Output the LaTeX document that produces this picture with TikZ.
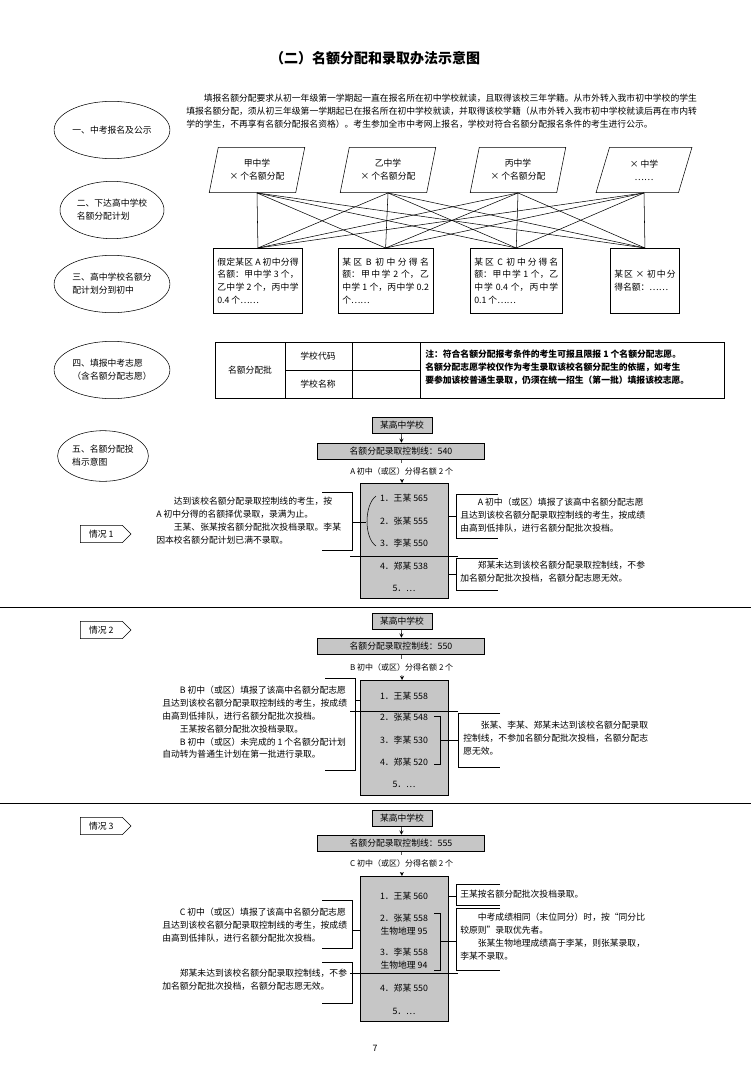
\documentclass[tikz,border=0pt]{standalone}
\usepackage{fontspec}
\setmainfont{Noto Sans CJK SC}
\XeTeXlinebreaklocale "zh"
\XeTeXlinebreakskip=0pt plus 1pt
\usetikzlibrary{shapes.geometric,shapes.symbols}
\newcommand{\ind}{\hspace*{2em}}
\begin{document}
\begin{tikzpicture}[
    x=0.75pt, y=-0.75pt,
    every node/.style={font=\fontsize{6.6}{9.6}\selectfont},
    ell/.style={draw, ellipse, minimum width=78pt, minimum height=43pt, align=left, inner sep=1pt},
    para/.style={draw, trapezium, trapezium left angle=76, trapezium right angle=104, minimum width=72pt, minimum height=34pt, align=center, trapezium stretches=true},
    quota/.style={draw, minimum height=49pt, align=justify, anchor=north west, text width=#1, inner sep=3pt},
    gbox/.style={draw, fill=gray!45, minimum height=12pt, inner sep=1pt},
    lst/.style={draw, fill=gray!45, minimum width=66pt, anchor=north},
    case/.style={draw, signal, signal to=east, minimum width=38pt, minimum height=13pt, inner sep=2pt, anchor=west},
    txt/.style={align=left, anchor=north west, inner sep=0pt},
    arrow/.style={->, >=stealth, thin}
]
    \useasboundingbox (0,0) rectangle (751,1078);
    \node[font=\fontsize{10.5}{12}\selectfont\bfseries] (title) at (375,58) {（二）名额分配和录取办法示意图};

    % left column
    \node[ell] (e1) at (112,130) {一、中考报名及公示};
    \node[ell] (e2) at (112,210) {二、下达高中学校\\名额分配计划};
    \node[ell] (e3) at (112,284) {三、高中学校名额分\\配计划分到初中};
    \node[ell] (e4) at (112,370) {四、填报中考志愿\\（含名额分配志愿）};
    \node[ell, minimum width=64pt, minimum height=38pt] (e5) at (103,456) {五、名额分配投\\档示意图};

    \node[txt, text width=383pt, align=justify] (intro) at (186,94) {\ind 填报名额分配要求从初一年级第一学期起一直在报名所在初中学校就读，且取得该校三年学籍。从市外转入我市初中学校的学生填报名额分配，须从初三年级第一学期起已在报名所在初中学校就读，并取得该校学籍（从市外转入我市初中学校就读后再在市内转学的学生，不再享有名额分配报名资格）。考生参加全市中考网上报名，学校对符合名额分配报名条件的考生进行公示。};

    % quota plan
    \node[para] (p1) at (257,170) {甲中学\\× 个名额分配};
    \node[para] (p2) at (388,170) {乙中学\\× 个名额分配};
    \node[para] (p3) at (518,170) {丙中学\\× 个名额分配};
    \node[para] (p4) at (644,170) {× 中学\\……};

    \node[quota=61pt] (b1) at (213,248) {假定某区 A 初中分得名额：甲中学 3 个，乙中学 2 个，丙中学 0.4 个……};
    \node[quota=65pt] (b2) at (338,248) {某区 B 初中分得名额：甲中学 2 个，乙中学 1 个，丙中学 0.2 个……};
    \node[quota=63pt] (b3) at (470,248) {某区 C 初中分得名额：甲中学 1 个，乙中学 0.4 个，丙中学 0.1 个……};
    \node[quota=46pt] (b4) at (610,248) {某区 × 初中分得名额：……};

    \foreach \i in {1,...,4}
        \foreach \j in {1,...,4}
            \draw (p\i.south) -- (b\j.north);

    % application form
    \draw (215,342) rectangle (724,398);
    \draw (285,342) -- (285,398) (352,342) -- (352,398) (420,342) -- (420,398) (285,370) -- (420,370);
    \node (f1) at (250,370) {名额分配批};
    \node (f2) at (318,356) {学校代码};
    \node (f3) at (318,384) {学校名称};
    \node[txt, font=\fontsize{6.6}{9.6}\selectfont\bfseries] (note) at (425,350) {注：符合名额分配报考条件的考生可报且限报 1 个名额分配志愿。\\名额分配志愿学校仅作为考生录取该校名额分配生的依据，如考生\\要参加该校普通生录取，仍须在统一招生（第一批）填报该校志愿。};

    % case 1
    \node[gbox, minimum width=45pt] (s1) at (402,425) {某高中学校};
    \node[gbox, minimum width=125pt] (c1) at (401,451) {名额分配录取控制线：540};
    \node[lst, minimum height=86pt] (l1) at (404,483) {};
    \draw[arrow] (s1) -- (c1);
    \draw[arrow] (c1) -- node[fill=white, font=\fontsize{6}{7}\selectfont] {A 初中（或区）分得名额 2 个} (l1);
    \node (i11) at (404,498) {1．王某 565};
    \node (i12) at (404,521) {2．张某 555};
    \node (i13) at (404,543) {3．李某 550};
    \node (i14) at (404,566) {4．郑某 538};
    \node (i15) at (404,588) {5．…};
    \draw (350,556) -- (458,556);
    \draw (376,496) .. controls (364,505) and (364,538) .. (376,546);
    \node[case] (k1) at (80,534) {情况 1};
    \node[txt] (t11) at (156,497) {\ind 达到该校名额分配录取控制线的考生，按\\A 初中分得的名额择优录取，录满为止。\\\ind 王某、张某按名额分配批次投档录取。李某\\因本校名额分配计划已满不录取。};
    \draw (322,492) -- (352,492) -- (352,550) -- (322,550);
    \draw (352,522) -- (366,522);
    \node[txt] (t12) at (460,498) {\ind A 初中（或区）填报了该高中名额分配志愿\\且达到该校名额分配录取控制线的考生，按成绩\\由高到低排队，进行名额分配批次投档。};
    \draw (498,494) -- (456,494) -- (456,538) -- (498,538);
    \draw (l1.east |- 0,516) -- (456,516);
    \node[txt] (t13) at (460,561) {\ind 郑某未达到该校名额分配录取控制线，不参\\加名额分配批次投档，名额分配志愿无效。};
    \draw (498,558) -- (456,558) -- (456,590) -- (498,590);
    \draw (l1.east |- 0,574) -- (456,574);
    \draw (0,607) -- (751,607);

    % case 2
    \node[case] (k2) at (80,630) {情况 2};
    \node[gbox, minimum width=45pt] (s2) at (402,621) {某高中学校};
    \node[gbox, minimum width=125pt] (c2) at (401,646) {名额分配录取控制线：550};
    \node[lst, minimum height=86pt] (l2) at (404,680) {};
    \draw[arrow] (s2) -- (c2);
    \draw[arrow] (c2) -- node[fill=white, font=\fontsize{6}{7}\selectfont] {B 初中（或区）分得名额 2 个} (l2);
    \node (i21) at (404,696) {1．王某 558};
    \node (i22) at (404,717) {2．张某 548};
    \node (i23) at (404,740) {3．李某 530};
    \node (i24) at (404,762) {4．郑某 520};
    \node (i25) at (404,784) {5．…};
    \draw (350,711) -- (458,711);
    \draw (434,710) ++(0,6) -- (440,716) -- (440,764) -- (434,764);
    \node[txt] (t21) at (162,686) {\ind B 初中（或区）填报了该高中名额分配志愿\\且达到该校名额分配录取控制线的考生，按成绩\\由高到低排队，进行名额分配批次投档。\\\ind 王某按名额分配批次投档录取。\\\ind B 初中（或区）未完成的 1 个名额分配计划\\自动转为普通生计划在第一批进行录取。};
    \draw (325,678) -- (355,678) -- (355,770) -- (325,770);
    \draw (355,700) -- (l2.west |- 0,700);
    \node[txt] (t22) at (463,721) {\ind 张某、李某、郑某未达到该校名额分配录取\\控制线，不参加名额分配批次投档，名额分配志\\愿无效。};
    \draw (500,713) -- (458,713) -- (458,767) -- (500,767);
    \draw (440,740) -- (458,740);
    \draw (0,803) -- (751,803);

    % case 3
    \node[case] (k3) at (80,826) {情况 3};
    \node[gbox, minimum width=45pt] (s3) at (402,818) {某高中学校};
    \node[gbox, minimum width=125pt] (c3) at (401,843) {名额分配录取控制线：555};
    \node[lst, minimum height=109pt] (l3) at (404,876) {};
    \draw[arrow] (s3) -- (c3);
    \draw[arrow] (c3) -- node[fill=white, font=\fontsize{6}{7}\selectfont] {C 初中（或区）分得名额 2 个} (l3);
    \node (i31) at (404,896) {1．王某 560};
    \node[align=center] (i32) at (404,925) {2．张某 558\\生物地理 95};
    \node[align=center] (i33) at (404,959) {3．李某 558\\生物地理 94};
    \node (i34) at (404,988) {4．郑某 550};
    \node (i35) at (404,1011) {5．…};
    \draw (350,973) -- (458,973);
    \draw (434,913) -- (440,913) -- (440,970) -- (434,970);
    \node[txt] (t31) at (460,890) {王某按名额分配批次投档录取。};
    \draw (500,884) -- (456,884) -- (456,905) -- (500,905);
    \draw (l3.east |- 0,896) -- (456,896);
    \node[txt] (t32) at (460,913) {\ind 中考成绩相同（末位同分）时，按“同分比\\较原则”录取优先者。\\\ind 张某生物地理成绩高于李某，则张某录取，\\李某不录取。};
    \draw (500,908) -- (456,908) -- (456,970) -- (500,970);
    \draw (440,941) -- (456,941);
    \node[txt] (t33) at (162,908) {\ind C 初中（或区）填报了该高中名额分配志愿\\且达到该校名额分配录取控制线的考生，按成绩\\由高到低排队，进行名额分配批次投档。};
    \draw (322,900) -- (352,900) -- (352,948) -- (322,948);
    \draw (352,930) -- (l3.west |- 0,930);
    \node[txt] (t34) at (162,969) {\ind 郑某未达到该校名额分配录取控制线，不参\\加名额分配批次投档，名额分配志愿无效。};
    \draw (322,962) -- (352,962) -- (352,1003) -- (322,1003);

    \node (page) at (375,1048) {7};
\end{tikzpicture}
\end{document}
